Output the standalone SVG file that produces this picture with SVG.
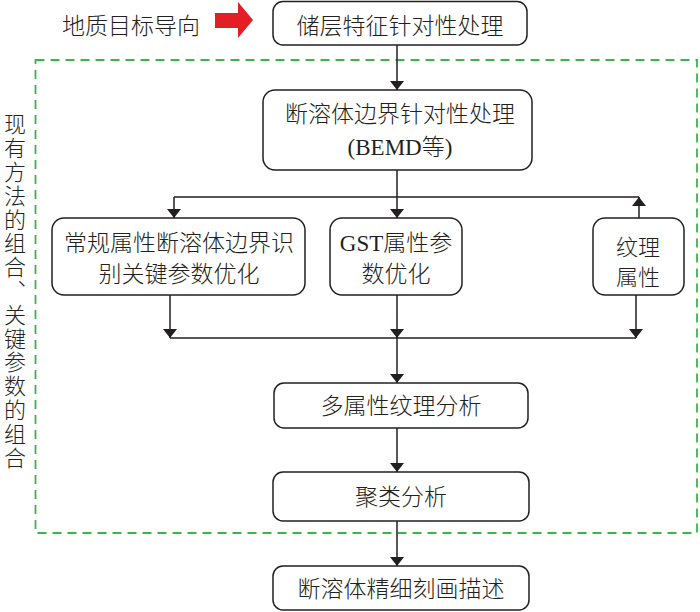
<svg xmlns="http://www.w3.org/2000/svg" width="700" height="612" viewBox="0 0 700 612">
<style>
.box{fill:#fff;stroke:#231f20;stroke-width:1.5}
.t{font-family:"Noto Sans CJK SC","Liberation Serif",sans-serif;font-size:23px;font-weight:300;fill:#231f20;text-anchor:middle}
.s{font-family:"Liberation Serif","Noto Sans CJK SC",serif;font-weight:400}
.ln{fill:none;stroke:#231f20;stroke-width:1.5}
</style>
<defs>
<marker id="ah" viewBox="0 0 10 10" refX="10" refY="5" markerWidth="9" markerHeight="14" markerUnits="userSpaceOnUse" orient="auto-start-reverse" preserveAspectRatio="none">
<path d="M0,0 L10,5 L0,10 Z" fill="#231f20"/>
</marker>
</defs>
<rect x="0" y="0" width="700" height="612" fill="#fff"/>
<rect x="35.5" y="60" width="661.5" height="473" fill="none" stroke="#3bb54a" stroke-width="1.8" stroke-dasharray="9,6"/>
<g id="guide">
<text class="t" x="131" y="33.5">地质目标导向</text>
<path d="M215,13 H238 V2 L253,20 L238,38 V28 H215 Z" fill="#e31e24"/>
</g>
<g id="side">
<text class="t" x="15" y="113" style="writing-mode:vertical-rl;text-anchor:start;font-size:22px;letter-spacing:1.8px">现有方法的组合、关键参数的组合</text>
</g>
<g id="n1">
<rect class="box" x="273" y="1.5" width="254" height="43.5" rx="10"/>
<text class="t" x="400" y="33.5">储层特征针对性处理</text>
</g>
<g id="n2">
<rect class="box" x="263" y="90" width="269" height="80" rx="12"/>
<text class="t" x="400" y="121.5">断溶体边界针对性处理</text>
<text class="t" x="400" y="155"><tspan class="s">(BEMD</tspan>等<tspan class="s">)</tspan></text>
</g>
<g id="n3">
<rect class="box" x="52" y="218" width="253" height="77" rx="12"/>
<text class="t" x="179" y="250.5">常规属性断溶体边界识</text>
<text class="t" x="179" y="281.5">别关键参数优化</text>
</g>
<g id="n4">
<rect class="box" x="330" y="218" width="132" height="77" rx="12"/>
<text class="t" x="396" y="250.5"><tspan class="s">GST</tspan>属性参</text>
<text class="t" x="396" y="281.5">数优化</text>
</g>
<g id="n5">
<rect class="box" x="593" y="218" width="91" height="77" rx="12"/>
<text class="t" x="638" y="255" style="font-size:22px">纹理</text>
<text class="t" x="638" y="284.5" style="font-size:22px">属性</text>
</g>
<g id="n6">
<rect class="box" x="274" y="383" width="254" height="45" rx="10"/>
<text class="t" x="401" y="413.5">多属性纹理分析</text>
</g>
<g id="n7">
<rect class="box" x="273" y="472" width="256" height="49" rx="10"/>
<text class="t" x="401" y="504.5">聚类分析</text>
</g>
<g id="n8">
<rect class="box" x="273" y="566" width="256" height="44" rx="10"/>
<text class="t" x="401" y="596.5">断溶体精细刻画描述</text>
</g>
<g id="connectors">
<path class="ln" d="M397,45 V90" marker-end="url(#ah)"/>
<path class="ln" d="M397,170 V197 M174,197 H639"/>
<path class="ln" d="M174,197 V218" marker-end="url(#ah)"/>
<path class="ln" d="M397,197 V218" marker-end="url(#ah)"/>
<path class="ln" d="M639,218 V197" marker-end="url(#ah)"/>
<path class="ln" d="M170,295 V338" marker-end="url(#ah)"/>
<path class="ln" d="M397,295 V338" marker-end="url(#ah)"/>
<path class="ln" d="M636,295 V338" marker-end="url(#ah)"/>
<path class="ln" d="M170,338 H636"/>
<path class="ln" d="M397,338 V383" marker-end="url(#ah)"/>
<path class="ln" d="M397,428 V472" marker-end="url(#ah)"/>
<path class="ln" d="M397,521 V566" marker-end="url(#ah)"/>
</g>
</svg>
